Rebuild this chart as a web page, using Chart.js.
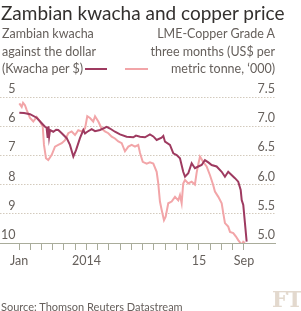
<!DOCTYPE html>
<html>
<head>
<meta charset="utf-8">
<script src="https://cdn.jsdelivr.net/npm/chart.js@4.4.1/dist/chart.umd.min.js"></script>
<style>
    body { margin: 0; background: #fff; width: 301px; height: 311px; position: relative; overflow: hidden; font-family: Lato, sans-serif; }
    #chart { position: absolute; left: 0; top: 0; }
    .txt { position: absolute; white-space: nowrap; }
    #title { left: 1px; top: 1px; font-size: 19px; color: #33302e; }
    .leg { top: 25px; font-size: 12.5px; line-height: 17.5px; color: #66605c; }
    #legLeft { left: 2px; }
    #legRight { right: 26px; text-align: right; }
    .swatch { position: absolute; height: 2px; top: 68px; }
    #source { left: 1px; top: 300px; font-size: 11px; color: #66605c; }
    #ft { left: 272px; top: 286px; font-family: "DejaVu Serif", serif; font-weight: bold; font-size: 22px; color: #e3d9ce; letter-spacing: -1px; }
</style>
</head>
<body>
<canvas id="chart" width="301" height="311"></canvas>
<div class="txt" id="title">Zambian kwacha and copper price</div>
<div class="txt leg" id="legLeft">Zambian kwacha<br>against the dollar<br>(Kwacha per $)</div>
<div class="txt leg" id="legRight">LME-Copper Grade A<br>three months (US$ per<br>metric tonne, ‘000)</div>
<div class="swatch" style="left:85px; width:22px; background:#9e3a60;"></div>
<div class="swatch" style="left:125px; width:23px; background:#f2a5a8;"></div>
<div class="txt" id="source">Source: Thomson Reuters Datastream</div>
<div class="txt" id="ft">FT</div>

<script>
// Months counted from 1 Jan 2014 (0 = Jan 2014, 20 = Sep 2015)
const kwachaMonths = [0.03, 0.45, 0.98, 1.57, 2.02, 2.31, 2.45, 2.55, 2.62, 2.68, 2.76, 3.05, 3.3, 3.49, 3.8, 4.24, 4.53, 4.83, 5.07, 5.42, 5.72, 5.87, 6.07, 6.46, 6.76, 7.2, 7.8, 8.09, 8.53, 8.98, 9.57, 10.16, 10.4, 10.76, 11.2, 11.64, 11.94, 12.24, 12.68, 12.83, 12.98, 13.42, 13.72, 14.02, 14.31, 14.6, 14.76, 15.05, 15.35, 15.64, 15.94, 16.24, 16.53, 16.83, 17.13, 17.57, 18.02, 18.31, 18.6, 18.9, 19.2, 19.49, 19.71, 19.8, 19.94, 20.09, 20.24];
// Kwacha per US dollar
const kwacha = [5.54, 5.55, 5.59, 5.71, 5.9, 6.02, 6.05, 6.4, 6.0, 6.35, 6.13, 6.19, 6.12, 6.13, 6.24, 6.41, 6.64, 7.04, 6.82, 6.41, 6.13, 6.25, 6.19, 6.1, 6.17, 6.13, 6.02, 6.08, 6.19, 6.28, 6.36, 6.38, 6.32, 6.36, 6.38, 6.28, 6.35, 6.47, 6.39, 6.33, 6.53, 6.64, 6.93, 6.99, 7.1, 7.56, 7.73, 7.61, 7.27, 7.44, 7.38, 7.33, 7.16, 7.24, 7.33, 7.38, 7.56, 7.73, 7.56, 7.67, 7.78, 7.9, 8.18, 8.53, 8.7, 9.33, 9.95];

const copperMonths = [0.03, 0.24, 0.36, 0.53, 0.68, 0.98, 1.27, 1.57, 1.87, 2.11, 2.22, 2.4, 2.6, 2.91, 3.2, 3.49, 3.8, 4.09, 4.38, 4.68, 4.98, 5.27, 5.57, 5.87, 6.07, 6.31, 6.6, 6.76, 7.05, 7.35, 7.64, 7.94, 8.24, 8.53, 8.83, 9.13, 9.42, 9.72, 10.02, 10.31, 10.6, 10.76, 11.0, 11.35, 11.64, 11.94, 12.24, 12.38, 12.53, 12.68, 12.89, 13.04, 13.27, 13.57, 13.87, 14.16, 14.31, 14.46, 14.6, 14.76, 15.05, 15.35, 15.64, 15.79, 15.94, 16.09, 16.38, 16.68, 16.98, 17.27, 17.42, 17.72, 18.02, 18.16, 18.31, 18.6, 18.76, 19.05, 19.29, 19.49, 19.8, 19.94, 20.09];
// LME copper, US$ per tonne ('000)
const copper = [7.39, 7.33, 7.4, 7.36, 7.28, 7.14, 7.08, 7.16, 7.08, 6.99, 6.68, 6.45, 6.42, 6.51, 6.65, 6.68, 6.71, 6.76, 6.88, 6.91, 6.85, 6.93, 6.91, 6.96, 7.17, 7.14, 7.08, 7.17, 7.08, 6.96, 6.91, 6.88, 6.82, 6.79, 6.74, 6.71, 6.57, 6.65, 6.68, 6.65, 6.68, 6.54, 6.39, 6.36, 6.38, 6.36, 6.22, 6.02, 5.71, 5.57, 5.39, 5.45, 5.68, 5.71, 5.79, 5.73, 5.82, 5.68, 6.02, 6.08, 6.02, 6.05, 6.0, 6.2, 6.35, 6.48, 6.39, 6.31, 6.16, 5.99, 5.88, 5.79, 5.68, 5.51, 5.34, 5.28, 5.19, 5.17, 5.11, 5.05, 4.97, 5.02, 5.0];

const xTickMonths = [0, 1, 2, 3, 4, 5, 6, 7, 8, 9, 10, 11, 12, 13, 14, 15, 16, 17, 18, 19, 20];
const xTickLabels = { 0: 'Jan', 6: '2014', 16: '15', 20: 'Sep' };
const kwachaTicks = [5, 6, 7, 8, 9, 10];
const copperTicks = [5.0, 5.5, 6.0, 6.5, 7.0, 7.5];

const tickFont = { family: 'Lato, sans-serif', size: 12.5 };
const tickColor = '#66605c';

const ctx = document.getElementById('chart');
new Chart(ctx, {
    type: 'line',
    data: {
        datasets: [
            {
                label: 'Kwacha',
                data: kwachaMonths.map((m, i) => ({ x: m, y: kwacha[i] })),
                yAxisID: 'yL',
                borderColor: '#9e3a60',
                borderWidth: 2,
                pointRadius: 0,
                tension: 0
            },
            {
                label: 'Copper',
                data: copperMonths.map((m, i) => ({ x: m, y: copper[i] })),
                yAxisID: 'yR',
                borderColor: '#f2a5a8',
                borderWidth: 2,
                pointRadius: 0,
                tension: 0
            }
        ]
    },
    options: {
        responsive: false,
        animation: false,
        layout: { padding: { left: 0, right: 26, top: 97, bottom: 43 } },
        plugins: {
            legend: { display: false },
            tooltip: { enabled: false }
        },
        scales: {
            x: {
                type: 'linear',
                min: -1.69,
                max: 22.76,
                afterBuildTicks: s => { s.ticks = xTickMonths.map(v => ({ value: v })); },
                afterFit: s => { s.height = 25; },
                grid: { drawOnChartArea: false, drawTicks: true, tickLength: 7, color: '#a9ac9b' },
                border: { display: true, color: '#a9ac9b', width: 1 },
                ticks: {
                    autoSkip: false,
                    maxRotation: 0,
                    padding: 3,
                    color: tickColor,
                    font: tickFont,
                    callback: v => xTickLabels[v] ?? ''
                }
            },
            yL: {
                position: 'left',
                reverse: true,
                min: 5,
                max: 10,
                afterBuildTicks: s => { s.ticks = kwachaTicks.map(v => ({ value: v })); },
                afterFit: s => { s.width = 0; },
                grid: { color: '#d3cabd', drawTicks: false },
                border: { display: false, dash: [1.5, 1.5] },
                ticks: {
                    mirror: true,
                    crossAlign: 'far',
                    padding: 1,
                    labelOffset: -8,
                    color: tickColor,
                    font: tickFont
                }
            },
            yR: {
                position: 'right',
                min: 5,
                max: 7.5,
                afterBuildTicks: s => { s.ticks = copperTicks.map(v => ({ value: v })); },
                afterFit: s => { s.width = 0; },
                grid: { display: false },
                border: { display: false },
                ticks: {
                    mirror: true,
                    padding: 0,
                    labelOffset: -8,
                    color: tickColor,
                    font: tickFont,
                    callback: v => v.toFixed(1)
                }
            }
        }
    }
});
</script>
</body>
</html>
